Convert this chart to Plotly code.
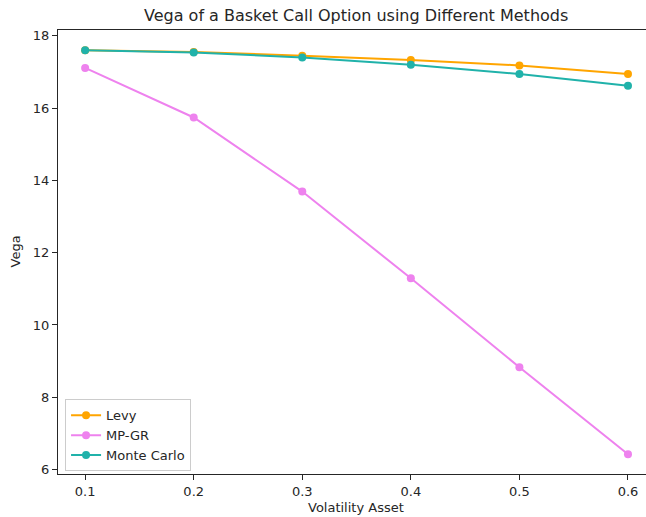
import plotly.graph_objects as go

vol = [0.1, 0.2, 0.3, 0.4, 0.5, 0.6]
levy = [17.60, 17.55, 17.45, 17.33, 17.18, 16.94]
mpgr = [17.11, 15.74, 13.69, 11.29, 8.83, 6.42]
monte_carlo = [17.60, 17.54, 17.40, 17.20, 16.94, 16.62]

series = [("Levy", levy, "#FFA500"), ("MP-GR", mpgr, "#EE82EE"), ("Monte Carlo", monte_carlo, "#20B2AA")]

fig = go.Figure()
for name, vals, col in series:
    fig.add_trace(go.Scatter(x=vol, y=vals, name=name, mode="lines+markers",
                             line=dict(color=col, width=2),
                             marker=dict(color=col, size=8)))

font = "DejaVu Sans"
fig.update_layout(
    width=646, height=517,
    margin=dict(l=58, r=0, t=30, b=43),
    paper_bgcolor="white", plot_bgcolor="white",
    font=dict(family=font, size=13, color="#262626"),
    showlegend=True,
    legend=dict(x=0.012, y=0.006, xanchor="left", yanchor="bottom",
                bgcolor="rgba(255,255,255,0.8)", bordercolor="#cccccc", borderwidth=1,
                font=dict(family=font, size=13, color="#262626"),
                tracegroupgap=0, itemwidth=30),
    xaxis=dict(range=[0.075, 0.6166], tickvals=vol, ticktext=["0.1", "0.2", "0.3", "0.4", "0.5", "0.6"],
               showgrid=False, zeroline=False, showline=True, linecolor="#262626", linewidth=1,
               mirror=True, ticks="outside", ticklen=5, tickcolor="#262626",
               tickfont=dict(family=font, size=13, color="#262626")),
    yaxis=dict(range=[5.876, 18.16], tickvals=[6, 8, 10, 12, 14, 16, 18],
               showgrid=False, zeroline=False, showline=True, linecolor="#262626", linewidth=1,
               ticks="outside", ticklen=5, tickcolor="#262626",
               tickfont=dict(family=font, size=13, color="#262626")),
    annotations=[
        dict(text="Vega of a Basket Call Option using Different Methods", xref="paper", yref="paper",
             x=(356 - 58) / 588, y=1, yshift=3, xanchor="center", yanchor="bottom", showarrow=False,
             font=dict(family=font, size=16, color="#262626")),
        dict(text="Volatility Asset", xref="paper", yref="paper", x=(356 - 58) / 588, y=0, yshift=-24,
             xanchor="center", yanchor="top", showarrow=False, font=dict(family=font, size=13, color="#262626")),
        dict(text="Vega", xref="paper", yref="paper", x=0, xshift=-34, y=0.5, textangle=-90,
             xanchor="right", yanchor="middle", showarrow=False, font=dict(family=font, size=13, color="#262626")),
    ],
)

fig.write_html("out.html")
